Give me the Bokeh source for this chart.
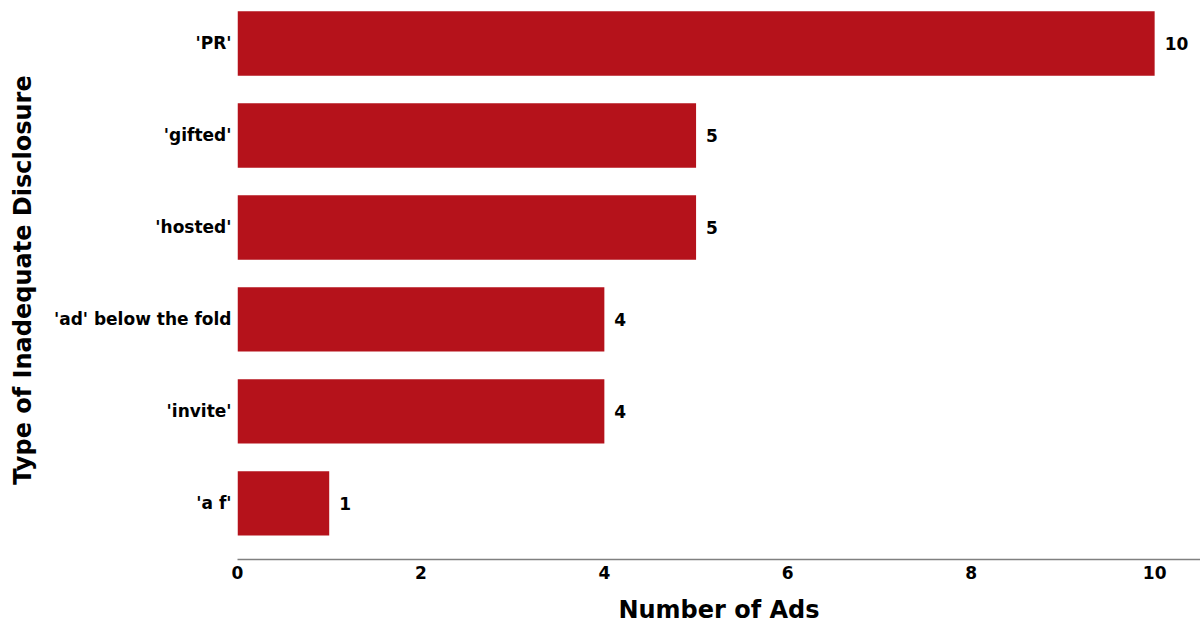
from bokeh.plotting import figure
from bokeh.models import ColumnDataSource, Range1d, FixedTicker
from bokeh.core.properties import value
from bokeh.embed import file_html
from bokeh.resources import INLINE

categories = ["'a f'", "'invite'", "'ad' below the fold", "'hosted'", "'gifted'", "'PR'"]
counts = [1, 4, 4, 5, 5, 10]
x_ticks = [0, 2, 4, 6, 8, 10]

positions = list(range(len(categories)))
src = ColumnDataSource(dict(y=positions, v=counts, lbl=[str(c) for c in counts]))

FONT = "DejaVu Sans"
p = figure(width=1200, height=626, output_backend="svg", toolbar_location=None,
           x_range=Range1d(0, 10.5), y_range=Range1d(-0.61, 5.467),
           min_border_left=237, min_border_right=0, min_border_top=0, min_border_bottom=62)
p.hbar(y="y", right="v", left=0, height=0.7, source=src, fill_color="#B5121B", line_color=None)
p.text(x="v", y="y", text="lbl", source=src, x_offset=10, text_baseline="middle", text_align="left",
       text_font=value(FONT), text_font_style="bold", text_font_size="17px", text_color="#000000")

p.outline_line_color = None
p.grid.grid_line_color = None
p.background_fill_color = "white"
p.border_fill_color = "white"

p.xaxis.ticker = FixedTicker(ticks=x_ticks)
p.yaxis.ticker = FixedTicker(ticks=positions)
p.yaxis.major_label_overrides = {i: c for i, c in enumerate(categories)}

for ax in (p.xaxis[0], p.yaxis[0]):
    ax.major_tick_line_color = None
    ax.minor_tick_line_color = None
    ax.major_tick_out = 0
    ax.major_tick_in = 0
    ax.minor_tick_out = 0
    ax.minor_tick_in = 0
    ax.major_label_text_font = FONT
    ax.major_label_text_font_style = "bold"
    ax.major_label_text_font_size = "17px"
    ax.major_label_text_color = "#000000"
    ax.axis_label_text_font = FONT
    ax.axis_label_text_font_style = "bold"
    ax.axis_label_text_font_size = "24px"
    ax.axis_label_text_color = "#000000"

p.yaxis.axis_line_color = None
p.yaxis.major_label_standoff = 6
p.yaxis.axis_label = "Type of Inadequate Disclosure"
p.yaxis.axis_label_standoff = 14

p.xaxis.axis_line_color = "#808080"
p.xaxis.axis_line_width = 1.5
p.xaxis.major_label_standoff = 6
p.xaxis.axis_label = "Number of Ads"
p.xaxis.axis_label_standoff = 14

open("out.html", "w").write(file_html(p, INLINE))
